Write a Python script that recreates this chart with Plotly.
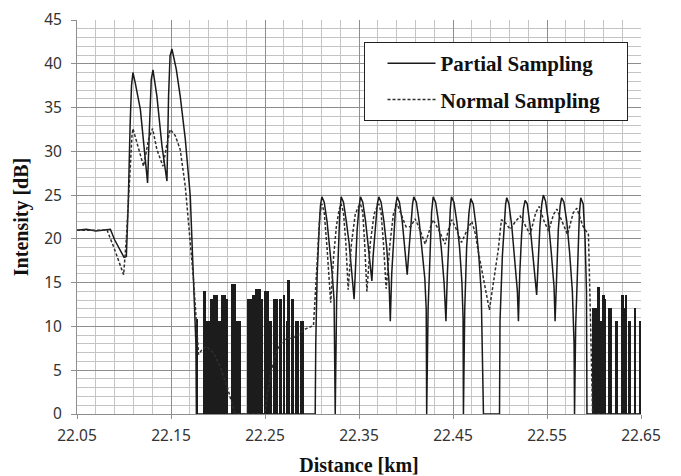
import plotly.graph_objects as go

# ---------------- data ----------------
partial_km = [
    22.0500, 22.0600, 22.0700, 22.0800, 22.0855, 22.0900, 22.0950, 22.1000, 22.1025,
    22.1045, 22.1065, 22.1080, 22.1095, 22.1120, 22.1174, 22.1208, 22.1251, 22.1270,
    22.1290, 22.1308, 22.1350, 22.1404, 22.1457, 22.1474, 22.1490, 22.1510, 22.1556,
    22.1598, 22.1652, 22.1705, 22.1740, 22.1765, 22.1770, 22.3034,
    22.3040, 22.3055, 22.3075, 22.3090, 22.3105, 22.3130, 22.3160, 22.3190, 22.3215,
    22.3235, 22.3247, 22.3262, 22.3280, 22.3295, 22.3310, 22.3335, 22.3365, 22.3395,
    22.3420, 22.3440, 22.3448, 22.3460, 22.3480, 22.3500, 22.3516, 22.3540, 22.3570,
    22.3600, 22.3625, 22.3637, 22.3650, 22.3675, 22.3695, 22.3711, 22.3735, 22.3765,
    22.3795, 22.3820, 22.3833, 22.3848, 22.3870, 22.3890, 22.3906, 22.3930, 22.3960,
    22.3990, 22.4013, 22.4030, 22.4055, 22.4070, 22.4083, 22.4110, 22.4140, 22.4170,
    22.4200, 22.4215, 22.4220, 22.4235, 22.4255, 22.4272, 22.4289, 22.4315, 22.4345,
    22.4375, 22.4405, 22.4425, 22.4440, 22.4460, 22.4472, 22.4484, 22.4510, 22.4540,
    22.4570, 22.4595, 22.4607, 22.4611, 22.4625, 22.4645, 22.4670, 22.4689, 22.4715,
    22.4745, 22.4775, 22.4800, 22.4824, 22.4995, 22.5000, 22.5025, 22.5045, 22.5060,
    22.5072, 22.5095, 22.5125, 22.5155, 22.5185, 22.5196, 22.5210, 22.5230, 22.5250,
    22.5267, 22.5290, 22.5320, 22.5350, 22.5380, 22.5390, 22.5405, 22.5425, 22.5445,
    22.5461, 22.5485, 22.5515, 22.5545, 22.5575, 22.5586, 22.5600, 22.5620, 22.5640,
    22.5656, 22.5680, 22.5710, 22.5740, 22.5770, 22.5788, 22.5793, 22.5805, 22.5825,
    22.5845, 22.5859, 22.5885, 22.5905, 22.5920, 22.5925, 22.6500,
]
partial_db = [
    21.0, 21.1, 20.9, 21.0, 21.1, 19.9, 18.9, 17.9, 18.0,
    24.0, 33.0, 37.5, 39.0, 37.8, 34.8, 31.4, 26.4, 32.5,
    38.2, 39.3, 36.3, 30.6, 26.6, 36.3, 40.9, 41.7, 39.4,
    36.3, 31.4, 24.9, 16.0, 8.0, 0.0, 0.0,
    8.0, 16.0, 21.0, 23.8, 24.8, 24.2, 22.0, 19.0, 16.0,
    13.0, 0.0, 13.0, 19.0, 22.8, 24.8, 24.2, 22.0, 19.5,
    16.5, 14.5, 13.1, 16.0, 21.0, 23.6, 24.8, 24.2, 22.0,
    19.0, 16.5, 15.2, 18.0, 22.0, 24.0, 24.8, 24.2, 22.0,
    19.0, 15.0, 10.6, 16.0, 21.0, 23.8, 24.8, 24.2, 22.0,
    18.5, 15.9, 18.5, 22.5, 24.0, 24.8, 24.2, 22.0, 19.0,
    15.5, 12.0, 0.0, 12.0, 19.0, 23.0, 24.8, 24.2, 22.0,
    19.0, 15.0, 10.6, 16.0, 21.0, 23.5, 24.8, 24.2, 22.0,
    19.0, 15.0, 11.0, 0.0, 12.0, 19.0, 23.0, 24.6, 24.0,
    21.5, 18.0, 14.0, 0.0, 0.0, 10.6, 18.0, 22.0, 24.0,
    24.7, 24.0, 21.5, 18.0, 14.0, 10.6, 16.0, 20.5, 23.5,
    24.4, 24.0, 21.5, 18.0, 15.0, 13.6, 17.0, 21.5, 24.0,
    25.0, 24.3, 22.0, 18.5, 14.5, 10.6, 16.0, 21.0, 23.8,
    24.7, 24.2, 22.0, 18.5, 14.0, 8.0, 0.0, 10.0, 18.0,
    23.0, 24.7, 24.0, 20.0, 14.0, 0.0, 0.0,
]

normal_km = [
    22.0500, 22.0820, 22.0900, 22.0960, 22.0996, 22.1025, 22.1049, 22.1085, 22.1095,
    22.1125, 22.1155, 22.1208, 22.1262, 22.1304, 22.1350, 22.1414, 22.1460, 22.1492,
    22.1545, 22.1598, 22.1652, 22.1687, 22.1740, 22.1793, 22.1840, 22.1880, 22.1950,
    22.2024, 22.2100, 22.2183, 22.2500, 22.2520, 22.2573, 22.2627, 22.2697, 22.2803,
    22.2927, 22.3016, 22.3040, 22.3065, 22.3085, 22.3105, 22.3130, 22.3160, 22.3199,
    22.3230, 22.3260, 22.3290, 22.3310, 22.3335, 22.3360, 22.3385, 22.3420, 22.3460,
    22.3490, 22.3516, 22.3540, 22.3560, 22.3584, 22.3620, 22.3660, 22.3690, 22.3711,
    22.3735, 22.3760, 22.3789, 22.3830, 22.3865, 22.3890, 22.3906, 22.3956, 22.4000,
    22.4050, 22.4097, 22.4150, 22.4204, 22.4250, 22.4287, 22.4350, 22.4416, 22.4450,
    22.4487, 22.4540, 22.4590, 22.4650, 22.4700, 22.4740, 22.4765, 22.4887, 22.4982,
    22.5015, 22.5060, 22.5108, 22.5165, 22.5215, 22.5270, 22.5321, 22.5380, 22.5417,
    22.5470, 22.5516, 22.5570, 22.5605, 22.5660, 22.5718, 22.5780, 22.5818, 22.5880,
    22.5941, 22.5960, 22.5985, 22.6500,
]
normal_db = [
    21.0, 21.0, 18.8, 17.0, 15.9, 20.0, 24.9, 31.8, 32.6,
    31.5, 30.2, 28.3, 31.4, 32.6, 30.2, 28.3, 31.0, 32.5,
    31.8, 30.2, 26.0, 21.9, 15.3, 6.8, 7.5, 7.7, 7.0,
    5.4, 3.0, 0.0, 0.0, 2.0, 5.2, 7.3, 8.5, 8.7,
    9.7, 10.1, 15.0, 20.0, 23.0, 24.0, 23.0, 19.0, 12.7,
    18.0, 21.5, 23.4, 24.0, 23.0, 19.5, 14.2, 19.5, 22.8,
    23.6, 24.0, 23.0, 19.5, 14.0, 19.5, 22.8, 23.6, 24.0,
    23.0, 19.5, 14.3, 19.5, 22.8, 23.6, 24.0, 22.6, 21.4,
    21.4, 22.3, 21.0, 19.4, 21.0, 22.2, 21.0, 19.4, 21.0,
    22.2, 21.0, 19.6, 21.0, 22.0, 20.5, 18.8, 11.9, 18.8,
    22.2, 21.8, 21.1, 22.0, 22.6, 21.5, 20.5, 23.0, 23.7,
    22.0, 20.9, 22.8, 23.4, 22.0, 20.5, 23.0, 23.5, 21.5,
    20.5, 12.0, 0.0, 0.0,
]

# spiky (noise) parts of the partial-sampling trace: start km, end km, level dB
spike_start = [
    22.1766, 22.1844, 22.1871, 22.1913, 22.1951, 22.1998, 22.2035, 22.2073, 22.2142,
    22.2195, 22.2312, 22.2360, 22.2397, 22.2445, 22.2493, 22.2529, 22.2584, 22.2652,
    22.2689, 22.2721, 22.2737, 22.2774, 22.2817, 22.2870,
    22.5983, 22.6031, 22.6053, 22.6089, 22.6107, 22.6148, 22.6225, 22.6291, 22.6309,
    22.6327, 22.6361, 22.6425, 22.6474,
]
spike_end = [
    22.1782, 22.1873, 22.1921, 22.1942, 22.2001, 22.2038, 22.2080, 22.2107, 22.2187,
    22.2245, 22.2362, 22.2389, 22.2453, 22.2474, 22.2538, 22.2574, 22.2634, 22.2686,
    22.2718, 22.2745, 22.2761, 22.2808, 22.2857, 22.2910,
    22.6033, 22.6060, 22.6090, 22.6115, 22.6131, 22.6192, 22.6254, 22.6317, 22.6333,
    22.6353, 22.6395, 22.6451, 22.6500,
]
spike_db = [
    10.8, 14.0, 10.6, 13.1, 13.6, 10.6, 13.6, 13.1, 14.8,
    10.6, 13.1, 13.6, 14.3, 13.1, 14.0, 10.6, 13.1, 13.1,
    13.6, 10.6, 15.3, 13.1, 10.6, 10.6,
    12.1, 14.5, 10.6, 13.6, 13.1, 12.1, 10.6, 13.6, 12.1,
    13.6, 10.6, 12.1, 10.6,
]

x_ticks = [22.05, 22.15, 22.25, 22.35, 22.45, 22.55, 22.65]
y_ticks = [0, 5, 10, 15, 20, 25, 30, 35, 40, 45]

# ---------------- figure ----------------
spike_center = [(a + b) / 2 for a, b in zip(spike_start, spike_end)]
spike_width = [b - a for a, b in zip(spike_start, spike_end)]

SERIF = "Liberation Serif"
SANS = "Noto Sans"

fig = go.Figure()
fig.add_trace(go.Bar(
    x=spike_center, y=spike_db, width=spike_width,
    marker=dict(color="#1c1c1c", line=dict(width=0)),
    showlegend=False, hoverinfo="skip",
))
fig.add_trace(go.Scatter(
    x=partial_km, y=partial_db, mode="lines", name="Partial Sampling\u00a0\u00a0\u00a0\u00a0",
    line=dict(color="#1a1a1a", width=1.5), legendgroup="a",
))
fig.add_trace(go.Scatter(
    x=normal_km, y=normal_db, mode="lines", name="Normal Sampling\u00a0\u00a0\u00a0\u00a0",
    line=dict(color="#2e2e2e", width=1.5, dash="3px,2px"), legendgroup="b",
))

fig.update_layout(
    width=673, height=468,
    margin=dict(l=69, r=40, t=12, b=62),
    paper_bgcolor="white", plot_bgcolor="white",
    barmode="overlay", bargap=0,
    showlegend=True,
    legend=dict(
        x=0.508, y=0.944, xanchor="left", yanchor="top",
        bgcolor="white", bordercolor="#222", borderwidth=1,
        font=dict(family=SERIF, size=21, color="#111", weight="bold"),
        tracegroupgap=6, indentation=18, itemwidth=48,
    ),
    xaxis=dict(
        range=[22.05, 22.65], tickvals=x_ticks, ticktext=[f"{v:.2f}" for v in x_ticks],
        showgrid=True, gridcolor="#8e8e8e", gridwidth=1,
        minor=dict(dtick=0.02, tick0=22.05, showgrid=True, gridcolor="#c4c4c4", gridwidth=1),
        showline=True, linecolor="#8e8e8e", linewidth=1,
        ticks="outside", ticklen=4, tickcolor="#8e8e8e",
        tickfont=dict(family=SANS, size=15.5, color="#333"),
        ticklabelstandoff=3, ticklabeloverflow="allow",
        zeroline=False, automargin=False,
        title=dict(text="Distance [km]", standoff=14,
                   font=dict(family=SERIF, size=20, color="#111", weight="bold")),
    ),
    yaxis=dict(
        range=[0, 45], tickvals=y_ticks,
        showgrid=True, gridcolor="#8e8e8e", gridwidth=1,
        minor=dict(dtick=1, showgrid=True, gridcolor="#c4c4c4", gridwidth=1),
        showline=True, linecolor="#8e8e8e", linewidth=1,
        ticks="outside", ticklen=5, tickcolor="#8e8e8e",
        tickfont=dict(family=SANS, size=15.5, color="#333"),
        ticklabelstandoff=6, ticklabeloverflow="allow",
        zeroline=False, automargin=False,
        title=dict(text="Intensity [dB]", standoff=10,
                   font=dict(family=SERIF, size=20, color="#111", weight="bold")),
    ),
)

fig.write_html("out.html")
